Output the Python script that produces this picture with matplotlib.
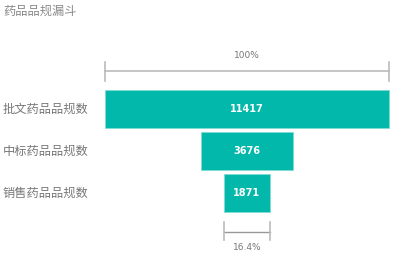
import matplotlib
matplotlib.use("Agg")
import matplotlib.pyplot as plt

title = "药品品规漏斗"
categories = ["批文药品品规数", "中标药品品规数", "销售药品品规数"]
values = [11417, 3676, 1871]

W, H = 414, 258
fig = plt.figure(figsize=(W / 100, H / 100), dpi=100)
ax = fig.add_axes([0, 0, 1, 1])
ax.set_axis_off()

cjk = ["Noto Sans CJK SC", "DejaVu Sans"]
teal = "#01B8AA"
gray = "#777777"
lgray = "#BBBBBB"

vmax = max(values)
px_per_unit = 284 / vmax
cx = 247
ax.set_xlim(-cx / px_per_unit, (W - cx) / px_per_unit)
row = 42.0
y0 = 109.0
ax.set_ylim((H - y0) / row, -y0 / row)

bh = 38 / 42
for i, v in enumerate(values):
    ax.barh(i, v, left=-v / 2, height=bh, color=teal, edgecolor="#7FDCD4", linewidth=0.6)
    ax.text(0, i, f"{v}", ha="center", va="center", color="white",
            fontsize=7, fontweight="bold", family=["DejaVu Sans"])
    ax.text(-cx / px_per_unit + 3 / px_per_unit, i, categories[i], ha="left", va="center",
            color=gray, fontsize=8.8, family=cjk)

# top bracket (100%)
ytop = -38 / row
tick = 9.5 / row
half = values[0] / 2
ax.plot([-half, half], [ytop, ytop], color=lgray, lw=1.2)
ax.plot([-half, -half], [ytop - tick, ytop + tick], color=lgray, lw=1.2)
ax.plot([half, half], [ytop - tick, ytop + tick], color=lgray, lw=1.2)
ax.text(0, -54 / row, "100%", ha="center", va="center", color=gray, fontsize=6.5)

# bottom bracket
ybot = (232 - y0) / row
half3 = values[-1] / 2
ax.plot([-half3, half3], [ybot, ybot], color="#999999", lw=1.0)
ax.plot([-half3, -half3], [(222 - y0) / row, (240 - y0) / row], color=lgray, lw=1.2)
ax.plot([half3, half3], [(222 - y0) / row, (240 - y0) / row], color=lgray, lw=1.2)
pct = values[-1] / values[0] * 100
ax.text(0, (247 - y0) / row, f"{pct:.1f}%", ha="center", va="center", color=gray, fontsize=6.5)

fig.text(3 / W, 1 - 11 / H, title, ha="left", va="center", color="#888888",
         fontsize=8.8, family=cjk)

fig.savefig("out.png", dpi=100)
